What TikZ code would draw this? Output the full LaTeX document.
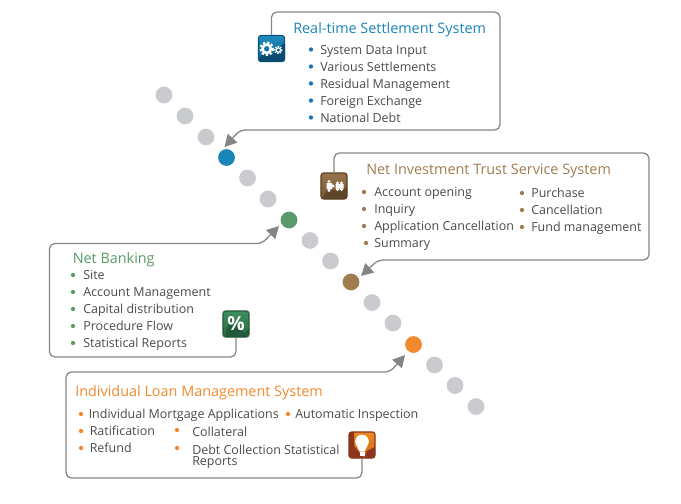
\documentclass[tikz,border=0pt]{standalone}
\usepackage{fontspec}
\setmainfont{Open Sans}
\usetikzlibrary{arrows.meta}
\definecolor{cblue}{HTML}{1A85B8}
\definecolor{cgreen}{HTML}{5A9A68}
\definecolor{cbrown}{HTML}{A07C50}
\definecolor{corange}{HTML}{F08A2C}
\definecolor{cbull}{HTML}{1B6FB5}
\definecolor{cgray}{HTML}{C9CBCE}
\definecolor{cline}{HTML}{858585}
\definecolor{ctext}{HTML}{4A4A4A}
\definecolor{ionea}{HTML}{1E8DBF}\definecolor{ioneb}{HTML}{0B5F8C}\definecolor{ionec}{HTML}{0D5078}\definecolor{ioned}{HTML}{0B4A70}
\definecolor{itwoa}{HTML}{96734A}\definecolor{itwob}{HTML}{7A5A38}\definecolor{itwoc}{HTML}{5C4328}\definecolor{itwod}{HTML}{5F4529}
\definecolor{ithra}{HTML}{3F8E5C}\definecolor{ithrb}{HTML}{2A6A40}\definecolor{ithrc}{HTML}{245A38}\definecolor{ithrd}{HTML}{21593A}
\definecolor{ifoua}{HTML}{EE8A22}\definecolor{ifoub}{HTML}{D0641E}\definecolor{ifouc}{HTML}{8A3520}\definecolor{ifoud}{HTML}{8C3620}
\tikzset{
  x=0.75pt,y=-0.75pt,
  dotnode/.style={circle,inner sep=0pt,minimum size=12.6pt,fill=#1},
  callout/.style={draw=cline,line width=0.95pt,rounded corners=4pt},
  tipline/.style={-{Triangle[length=9pt,width=9.5pt,fill=cline]}},
  title/.style={anchor=base west,inner sep=0pt,font=\fontsize{10.8pt}{12pt}\selectfont,text=#1},
  body/.style={anchor=base west,inner sep=0pt,font=\fontsize{9.35pt}{8.2pt}\selectfont,text=ctext},
  bullet/.style={circle,inner sep=0pt,minimum size=3.2pt,fill=#1},
  iconbox/.style n args={3}{draw=#3,line width=0.9pt,rounded corners=2.2pt,minimum size=19.6pt,inner sep=0pt,
    top color=#1,bottom color=#2},
  glyph/.style={white}
}
\newcommand{\entry}[6]{% name, bullet x, bullet y, text x, color, text
  \node[bullet=#5] (b#1) at (#2,#3) {};
  \node[body] (t#1) at (#4,#3+4.8) {#6};
}
\begin{document}
\begin{tikzpicture}
\useasboundingbox (0,0) rectangle (681,503);
% dots
\foreach \n/\px/\py/\c in {d1/164/95/cgray,d2/185/116/cgray,d3/206/137/cgray,d4/226.5/157.5/cblue,
  d5/247.5/178/cgray,d6/268/199/cgray,d7/289/220/cgreen,d8/310/240.5/cgray,d9/330.5/261/cgray,
  d10/351/282/cbrown,d11/372/302.5/cgray,d12/393/323/cgray,d13/413.5/344.5/corange,
  d14/434.5/365/cgray,d15/455/385.5/cgray,d16/476/406.5/cgray}
  \node[dotnode=\c] (\n) at (\px,\py) {};
% icons
\node[iconbox={ionea}{ioneb}{ionec}] (ic1) at (271.5,48.5) {};
\begin{scope}
 \clip[rounded corners=2.2pt] (258,35) rectangle (285,62);
 \fill[ioned] (262,55) -- (272,55) -- (283,44) -- (286,44) -- (286,63) -- (257,63) -- cycle;
\end{scope}
\node[iconbox={itwoa}{itwob}{itwoc}] (ic2) at (334,186) {};
\begin{scope}
 \clip[rounded corners=2.2pt] (321,173) rectangle (347,199);
 \fill[itwod] (322,199) -- (327,190) -- (343,190) -- (347,186) -- (347,199) -- cycle;
\end{scope}
\node[iconbox={ithra}{ithrb}{ithrc}] (ic3) at (236,324) {};
\begin{scope}
 \clip[rounded corners=2.2pt] (223,311) rectangle (249,337);
 \fill[ithrd] (225,337) -- (231,316) -- (244,333) -- (249,329) -- (249,337) -- cycle;
\end{scope}
\node[iconbox={ifoua}{ifoub}{ifouc}] (ic4) at (362,445) {};
\begin{scope}
 \clip[rounded corners=2.2pt] (349,432) rectangle (375,458);
 \fill[ifoud] (349,432) -- (354,432) -- (354,446) -- (364,458) -- (349,458) -- cycle;
 \fill[ifoud] (364,458) -- (367,451) -- (375,447) -- (375,458) -- cycle;
\end{scope}
% glyphs
\draw[glyph,line width=1.9pt] (266.7,48.8) circle (4.2);
\draw[glyph,line width=1.5pt,dash pattern=on 1.7pt off 1.5pt] (266.7,48.8) circle (6.3);
\draw[glyph,line width=1pt] (278.3,50) circle (2.2);
\draw[glyph,line width=0.9pt,dash pattern=on 1pt off 1pt] (278.3,50) circle (3.6);
\fill[glyph] (326.5,183) rectangle (332,189) (329,181.5) circle (1.7) (329,190.5) circle (1.7) (333,186) circle (1.7);
\fill[glyph] (335.5,184) rectangle (343.5,188.5) (337.5,183) circle (1.6) (341.5,183) circle (1.6) (337.5,189.5) circle (1.6) (341.5,189.5) circle (1.6);
\node[inner sep=0pt,text=white,font=\fontsize{14.5pt}{14.5pt}\bfseries\selectfont] (pct) at (236,324) {\%};
\fill[glyph] (362,441.5) circle (6.8);
\fill[glyph] (356.5,445.5) -- (367.5,445.5) -- (364.5,451.5) -- (359.5,451.5) -- cycle;
\fill[glyph] (359.5,452.3) rectangle (364.5,455.5);
% callouts
\coordinate (c1) at (224.5,147);
\draw[callout,tipline] (ic1.north) -- (271.5,12) -- (500,12) -- (500,130) -- (240,130) -- (c1);
\coordinate (c2) at (361,276);
\draw[callout,tipline] (ic2.north) -- (334,153) -- (649,153) -- (649,260) -- (378,260) -- (c2);
\coordinate (c3) at (279,226);
\draw[callout,tipline] (ic3.south) -- (236,357) -- (49.5,357) -- (49.5,243.5) -- (262,243.5) -- (c3);
\coordinate (c4) at (405,355);
\draw[callout,tipline] (ic4.south) -- (362,478) -- (66,478) -- (66,372) -- (390,372) -- (c4);
% titles
\node[title=cblue] (h1) at (293,34) {Real-time Settlement System};
\node[title=cbrown] (h2) at (366,174) {Net Investment Trust Service System};
\node[title=cgreen] (h3) at (72.5,263) {Net Banking};
\node[title=corange] (h4) at (75,396) {Individual Loan Management System};
% lists
\entry{a1}{311}{49.5}{320}{cbull}{System Data Input}
\entry{a2}{311}{66.5}{320}{cbull}{Various Settlements}
\entry{a3}{311}{83.5}{320}{cbull}{Residual Management}
\entry{a4}{311}{100.5}{320}{cbull}{Foreign Exchange}
\entry{a5}{311}{117.5}{320}{cbull}{National Debt}
\entry{b1}{364}{192}{374}{cbrown}{Account opening}
\entry{b2}{364}{209}{374}{cbrown}{Inquiry}
\entry{b3}{364}{226}{374}{cbrown}{Application Cancellation}
\entry{b4}{366}{243}{374}{cbrown}{Summary}
\entry{b5}{522}{193}{531}{cbrown}{Purchase}
\entry{b6}{522}{210}{531}{cbrown}{Cancellation}
\entry{b7}{522}{227}{531}{cbrown}{Fund management}
\entry{c1}{73}{275}{83}{cgreen}{Site}
\entry{c2}{73}{292}{83}{cgreen}{Account Management}
\entry{c3}{73}{309}{83}{cgreen}{Capital distribution}
\entry{c4}{73}{326}{83}{cgreen}{Procedure Flow}
\entry{c5}{73}{343}{83}{cgreen}{Statistical Reports}
\entry{e1}{81}{414}{88.5}{corange}{Individual Mortgage Applications}
\entry{e2}{288}{414}{295}{corange}{Automatic Inspection}
\entry{e3}{81}{431}{89.5}{corange}{Ratification}
\entry{e4}{81}{448}{89.5}{corange}{Refund}
\node[bullet=corange] (be5) at (177,430) {};
\node[body] (te5) at (192,436.8) {Collateral};
\node[bullet=corange] (be6) at (177,448) {};
\node[body] (te6) at (192,454.8) {Debt Collection Statistical};
\node[body] (te7) at (192,465.8) {Reports};
\end{tikzpicture}
\end{document}
